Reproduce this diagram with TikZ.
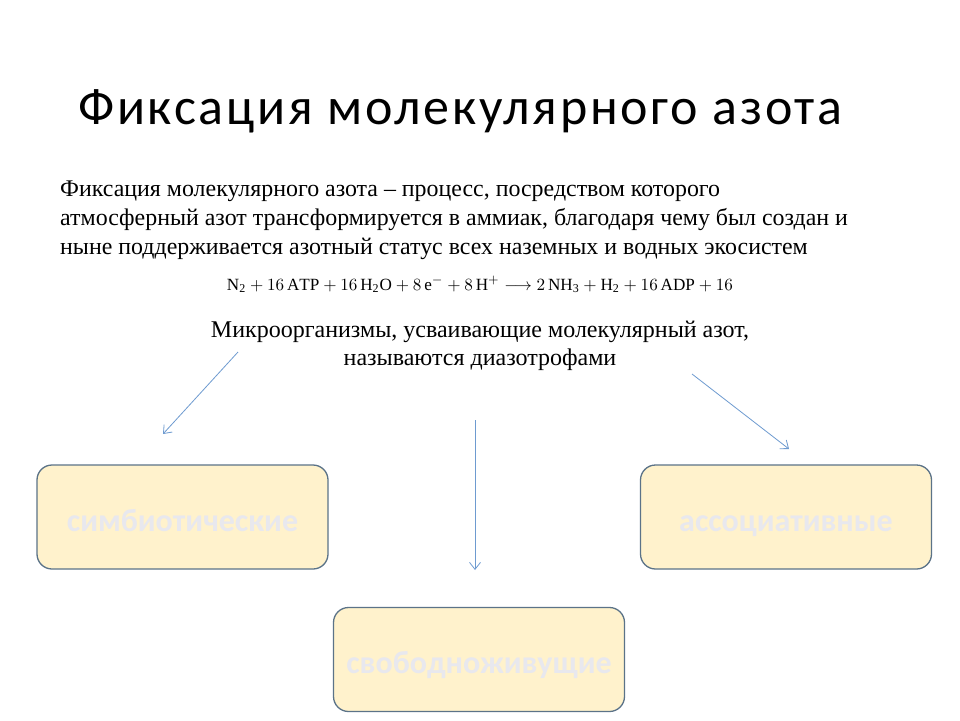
\documentclass[tikz,border=0pt]{standalone}
\usepackage{fontspec}
\setmainfont{Liberation Serif}
\newfontfamily\carlito{Carlito}
\newfontfamily\titlefont[LetterSpace=5.2]{Carlito}
\usetikzlibrary{arrows.meta}
\definecolor{boxfill}{HTML}{FFF2CC}
\definecolor{boxline}{HTML}{5B7388}
\definecolor{boxtext}{HTML}{E8E8EE}
\definecolor{arrowcol}{HTML}{6E9BD0}
\tikzset{
  groupbox/.style={draw=boxline, fill=boxfill, line width=1.3pt, rounded corners=15pt,
    minimum width=291pt, minimum height=104pt, inner sep=0pt,
    text height=32pt, text depth=4pt,
    font=\carlito\bfseries\fontsize{32}{36}\selectfont, text=boxtext},
  bodyline/.style={anchor=base west, inner sep=0pt, font=\fontsize{23.9}{29}\selectfont},
  centerline/.style={anchor=base, inner sep=0pt, font=\fontsize{24}{29}\selectfont},
  flowarrow/.style={draw=arrowcol, line width=0.8pt, -{Straight Barb[length=7pt,width=11pt]}}
}
\begin{document}
\begin{tikzpicture}[x=1pt,y=-1pt]
\useasboundingbox[fill=white] (0,0) rectangle (960,720);
\node[anchor=base west, inner sep=0pt, font=\titlefont\fontsize{52}{58}\selectfont] (title) at (78,124) {Фиксация молекулярного азота};
\node[bodyline] (l1) at (60,196) {Фиксация молекулярного азота – процесс, посредством которого};
\node[bodyline] (l2) at (60,225) {атмосферный азот трансформируется в аммиак, благодаря чему был создан и};
\node[bodyline] (l3) at (60,254) {ныне поддерживается азотный статус всех наземных и водных экосистем};
\node[anchor=base, inner sep=0pt] (eq) at (480,290) {\resizebox{506pt}{!}{$\mathrm{N_2}+16\,\mathrm{ATP}+16\,\mathrm{H_2O}+8\,\mathrm{e}^-+8\,\mathrm{H}^+\longrightarrow 2\,\mathrm{NH_3}+\mathrm{H_2}+16\,\mathrm{ADP}+16$}};
\node[centerline] (m1) at (480,337) {Микроорганизмы, усваивающие молекулярный азот,};
\node[centerline] (m2) at (480,365) {называются диазотрофами};
\node[groupbox] (b1) at (182.5,517) {симбиотические};
\node[groupbox] (b2) at (786,517) {ассоциативные};
\node[groupbox] (b3) at (479,659.5) {свободноживущие};
\coordinate (a1s) at (238,352);
\coordinate (a1e) at (163,434);
\coordinate (a2s) at (692,374);
\coordinate (a2e) at (789,449);
\coordinate (a3s) at (475,420);
\coordinate (a3e) at (475,570);
\draw[flowarrow] (a1s) -- (a1e);
\draw[flowarrow] (a2s) -- (a2e);
\draw[flowarrow] (a3s) -- (a3e);
\end{tikzpicture}
\end{document}
